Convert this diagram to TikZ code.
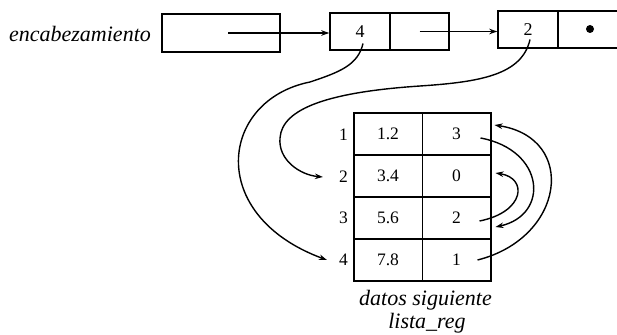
\documentclass[tikz,border=0pt]{standalone}
\usepackage{fontspec}
\setmainfont{Liberation Serif}
\usetikzlibrary{arrows.meta,calc}
\begin{document}
\begin{tikzpicture}[x=1pt,y=-1pt,
  box/.style={draw, line width=1.5pt, inner sep=0pt, font=\fontsize{18}{18}\selectfont},
  cell/.style={draw, line width=1.5pt, inner sep=0pt, minimum width=68.5pt, minimum height=42pt, font=\fontsize{17.5}{17.5}\selectfont},
  lbl/.style={font=\fontsize{22}{24}\selectfont\itshape, inner sep=0pt},
  idx/.style={font=\fontsize{17.5}{17.5}\selectfont, inner sep=0pt},
  ptr/.style={line width=1.4pt, -{Stealth[length=8pt,width=5.5pt]}},
]
\useasboundingbox (0,0) rectangle (617,334);

% list header and nodes
\node[lbl] (enc) at (80,34) {encabezamiento};
\node[box, minimum width=118pt, minimum height=38pt] (hdr) at (221,33) {};
\node[box, minimum width=60pt, minimum height=37pt] (n1a) at (360,31.5) {4};
\node[box, minimum width=59pt, minimum height=37pt] (n1b) at (419.5,31.5) {};
\node[box, minimum width=60pt, minimum height=37pt] (n2a) at (528,29.5) {2};
\node[box, minimum width=61pt, minimum height=37pt] (n2b) at (588.5,29.5) {};
\node[circle, fill, inner sep=0pt, minimum size=8pt] (nil) at (590,29) {};

% table
\node[cell] (d1) at (388,134) {1.2};
\node[cell] (s1) at (456.5,134) {3};
\node[cell] (d2) at (388,176) {3.4};
\node[cell] (s2) at (456.5,176) {0};
\node[cell] (d3) at (388,218) {5.6};
\node[cell] (s3) at (456.5,218) {2};
\node[cell] (d4) at (388,260) {7.8};
\node[cell] (s4) at (456.5,260) {1};

\node[idx] (i1) at (343.5,135) {1};
\node[idx] (i2) at (343.5,177) {2};
\node[idx] (i3) at (343.5,218) {3};
\node[idx] (i4) at (343.5,260) {4};

\node[lbl] (cap1) at (425.5,300) {datos siguiente};
\node[lbl] (cap2) at (427,323) {lista\_reg};

% pointers
\draw[ptr] ($(hdr.center)+(7,0)$) -- (hdr.center -| n1a.west);
\draw[ptr] (n1b.center) -- (n1b.center -| n2a.west);

\draw[ptr] ($(n1a.center)+(3,12)$) .. controls (358,65) and (340,72) .. (310,82)
  .. controls (220,100) and (205,215) .. ($(i4.west)+(-12,0)$);
\draw[ptr] ($(n2a.center)+(2,10)$) .. controls (522,75) and (480,82) .. (420,86)
  .. controls (330,92) and (282,108) .. (280,138)
  .. controls (278,160) and (300,175) .. ($(i2.west)+(-16,0)$);

\draw[ptr] ($(s4.center)+(21,0)$) .. controls (565,238) and (578,138) .. ($(s1.east)+(3,-9)$);
\draw[ptr] ($(s1.center)+(24,4)$) .. controls (545,150) and (550,215) .. ($(s3.east)+(4,9)$);
\draw[ptr] ($(s3.center)+(23,3)$) .. controls (525,212) and (528,178) .. ($(s2.east)+(4,-3)$);
\end{tikzpicture}
\end{document}
